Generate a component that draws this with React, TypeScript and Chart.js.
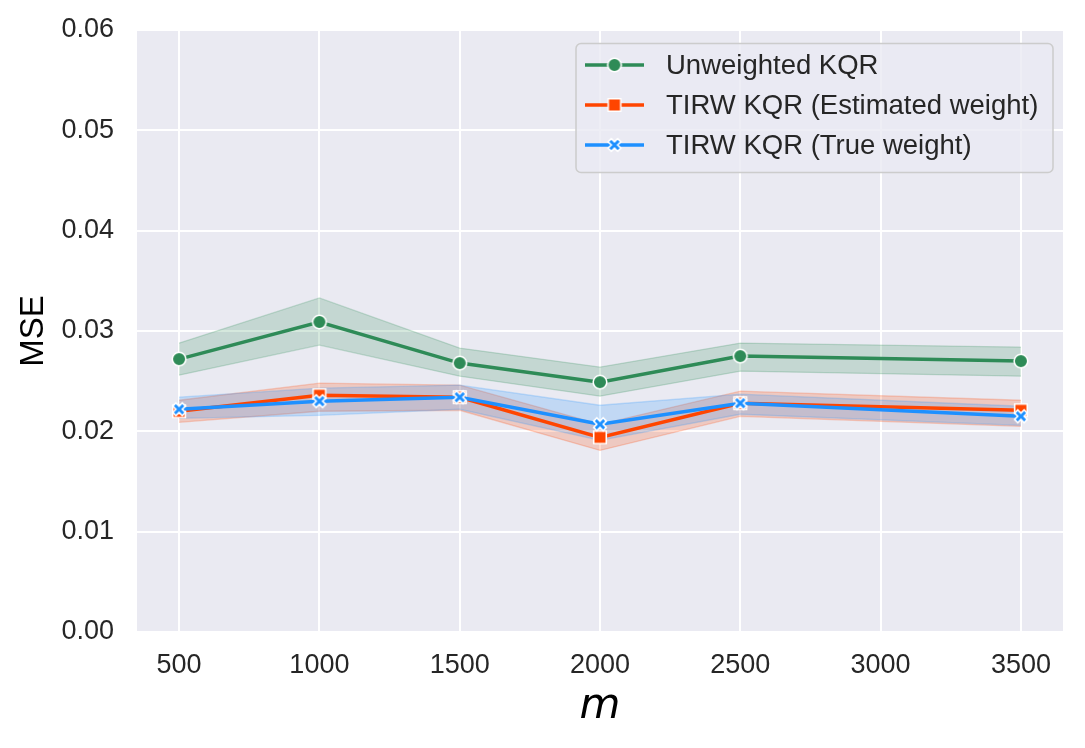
import React, { useEffect, useRef } from "react";
import { Chart, registerables } from "chart.js";

Chart.register(...registerables);

// ---- data ----
const mValues = [500, 1000, 1500, 2000, 2500, 3500];
const unweightedMean = [0.0272, 0.0309, 0.0268, 0.0249, 0.0275, 0.0270];
const unweightedLow = [0.0256, 0.0286, 0.0255, 0.0235, 0.0260, 0.0255];
const unweightedHigh = [0.0288, 0.0333, 0.0283, 0.0264, 0.0288, 0.0284];
const estimatedMean = [0.0220, 0.0236, 0.0234, 0.0194, 0.0228, 0.0221];
const estimatedLow = [0.0209, 0.0220, 0.0221, 0.0181, 0.0215, 0.0205];
const estimatedHigh = [0.0231, 0.0248, 0.0246, 0.0207, 0.0240, 0.0231];
const trueMean = [0.0222, 0.0230, 0.0234, 0.0207, 0.0228, 0.0215];
const trueLow = [0.0213, 0.0216, 0.0222, 0.0191, 0.0217, 0.0206];
const trueHigh = [0.0234, 0.0243, 0.0246, 0.0226, 0.0237, 0.0225];
const xTickValues = [500, 1000, 1500, 2000, 2500, 3000, 3500];
const yTickValues = [0, 0.01, 0.02, 0.03, 0.04, 0.05, 0.06];
const seriesLabels = ["Unweighted KQR", "TIRW KQR (Estimated weight)", "TIRW KQR (True weight)"];
const xTitle = "m";
const yTitle = "MSE";

const GREEN = "#2E8B57";
const ORANGE = "#FF4500";
const BLUE = "#1E90FF";
const BG = "#EAEAF2";
const TEXT = "#262626";
const FONT = "'Liberation Sans', Arial, sans-serif";

function rgba(hex: string, a: number) {
  const n = parseInt(hex.slice(1), 16);
  return `rgba(${(n >> 16) & 255},${(n >> 8) & 255},${n & 255},${a})`;
}

function makeMarker(kind: string, color: string) {
  const s = 22;
  const c = document.createElement("canvas");
  c.width = s;
  c.height = s;
  const ctx = c.getContext("2d")!;
  ctx.translate(s / 2, s / 2);
  ctx.beginPath();
  if (kind === "circle") {
    ctx.arc(0, 0, 6.8, 0, Math.PI * 2);
  } else if (kind === "square") {
    ctx.rect(-6.3, -6.3, 12.6, 12.6);
  } else {
    const pts = [[-1, -3], [1, -3], [1, -1], [3, -1], [3, 1], [1, 1], [1, 3], [-1, 3], [-1, 1], [-3, 1], [-3, -1], [-1, -1]];
    const k = 13.5 / 6;
    const r = Math.PI / 4;
    pts.forEach(([x, y], i) => {
      const X = (x * Math.cos(r) - y * Math.sin(r)) * k;
      const Y = (x * Math.sin(r) + y * Math.cos(r)) * k;
      if (i) ctx.lineTo(X, Y);
      else ctx.moveTo(X, Y);
    });
    ctx.closePath();
  }
  ctx.fillStyle = color;
  ctx.fill();
  ctx.lineWidth = 1.6;
  ctx.strokeStyle = "#ffffff";
  ctx.stroke();
  return c;
}

const toPoints = (ys: number[]) => mValues.map((x, i) => ({ x, y: ys[i] }));

export default function App() {
  const ref = useRef<HTMLCanvasElement>(null);

  useEffect(() => {
    const canvas = ref.current;
    if (!canvas) return;
    const markers = [
      makeMarker("circle", GREEN),
      makeMarker("square", ORANGE),
      makeMarker("x", BLUE),
    ];
    const colors = [GREEN, ORANGE, BLUE];
    const means = [unweightedMean, estimatedMean, trueMean];
    const lows = [unweightedLow, estimatedLow, trueLow];
    const highs = [unweightedHigh, estimatedHigh, trueHigh];

    // Bands are all drawn below all lines (like matplotlib zorder);
    // within each group later series sit on top.
    const datasets: any[] = [];
    for (let s = 0; s < 3; s++) {
      datasets.push({
        label: seriesLabels[s] + " low",
        data: toPoints(lows[s]),
        borderColor: rgba(colors[s], 0.22),
        borderWidth: 1.3,
        pointRadius: 0,
        fill: false,
        tension: 0,
        order: 10 - s,
      });
      datasets.push({
        label: seriesLabels[s] + " high",
        data: toPoints(highs[s]),
        borderColor: rgba(colors[s], 0.22),
        backgroundColor: rgba(colors[s], 0.2),
        borderWidth: 1.3,
        pointRadius: 0,
        fill: "-1",
        tension: 0,
        order: 10 - s,
      });
      datasets.push({
        label: seriesLabels[s],
        data: toPoints(means[s]),
        borderColor: colors[s],
        backgroundColor: colors[s],
        borderWidth: 3.5,
        pointStyle: markers[s],
        pointRadius: 6,
        fill: false,
        tension: 0,
        order: 3 - s,
      });
    }

    const bgPlugin = {
      id: "plotBg",
      beforeDraw(chart: any) {
        const { ctx, chartArea } = chart;
        ctx.save();
        ctx.fillStyle = BG;
        ctx.fillRect(chartArea.left, chartArea.top, chartArea.right - chartArea.left, chartArea.bottom - chartArea.top);
        ctx.restore();
      },
    };

    const legendPlugin = {
      id: "boxLegend",
      afterDraw(chart: any) {
        const { ctx, chartArea } = chart;
        const right = chartArea.right - 10;
        const top = chartArea.top + 13.5;
        const w = 477;
        const h = 129;
        const left = right - w;
        ctx.save();
        ctx.beginPath();
        ctx.roundRect(left, top, w, h, 5);
        ctx.fillStyle = "rgba(234,234,242,0.8)";
        ctx.fill();
        ctx.strokeStyle = "#cccccc";
        ctx.lineWidth = 1.5;
        ctx.stroke();
        for (let i = 0; i < 3; i++) {
          const y = top + 21.5 + i * 40;
          ctx.beginPath();
          ctx.moveTo(left + 9, y);
          ctx.lineTo(left + 68, y);
          ctx.strokeStyle = colors[i];
          ctx.lineWidth = 3.5;
          ctx.stroke();
          const mk = markers[i];
          ctx.drawImage(mk, left + 38.5 - mk.width / 2, y - mk.height / 2);
          ctx.fillStyle = TEXT;
          ctx.font = `27.5px ${FONT}`;
          ctx.textBaseline = "middle";
          ctx.textAlign = "left";
          ctx.fillText(seriesLabels[i], left + 90, y + 1);
        }
        ctx.restore();
      },
    };

    const chart = new Chart(canvas, {
      type: "line",
      data: { datasets },
      options: {
        animation: false,
        responsive: false,
        events: [],
        layout: { padding: { left: 0, right: 22, top: 30, bottom: 0 } },
        plugins: {
          legend: { display: false },
          tooltip: { enabled: false },
        },
        scales: {
          x: {
            type: "linear",
            min: 350,
            max: 3650,
            afterBuildTicks: (scale: any) => {
              scale.ticks = xTickValues.map((v) => ({ value: v }));
            },
            afterFit: (scale: any) => {
              scale.height = 116;
              scale.paddingLeft = 0;
              scale.paddingRight = 0;
            },
            grid: { color: "#ffffff", lineWidth: 2, drawTicks: false },
            border: { display: false },
            ticks: {
              color: TEXT,
              font: { size: 27, family: FONT },
              padding: 17,
              maxRotation: 0,
              autoSkip: false,
              callback: (v: any) => String(v),
            },
            title: {
              display: true,
              text: xTitle,
              color: "#000000",
              font: { size: 42, family: "'DejaVu Sans', sans-serif", style: "italic" },
              padding: { top: 0, bottom: 16 },
            },
          },
          y: {
            type: "linear",
            min: 0,
            max: 0.06,
            afterBuildTicks: (scale: any) => {
              scale.ticks = yTickValues.map((v) => ({ value: v }));
            },
            afterFit: (scale: any) => {
              scale.width = 137;
              scale.paddingTop = 0;
              scale.paddingBottom = 0;
            },
            grid: { color: "#ffffff", lineWidth: 2, drawTicks: false },
            border: { display: false },
            ticks: {
              color: TEXT,
              font: { size: 27, family: FONT },
              padding: 23,
              autoSkip: false,
              callback: (v: any) => Number(v).toFixed(2),
            },
            title: {
              display: true,
              text: yTitle,
              color: "#000000",
              font: { size: 33, family: FONT },
              padding: { top: 14, bottom: 0 },
            },
          },
        },
      },
      plugins: [bgPlugin, legendPlugin],
    } as any);

    return () => chart.destroy();
  }, []);

  return (
    <div style={{ position: "absolute", left: 0, top: 0, width: 1085, height: 748, background: "#ffffff" }}>
      <canvas ref={ref} width={1085} height={748} style={{ width: 1085, height: 748, display: "block" }} />
    </div>
  );
}
